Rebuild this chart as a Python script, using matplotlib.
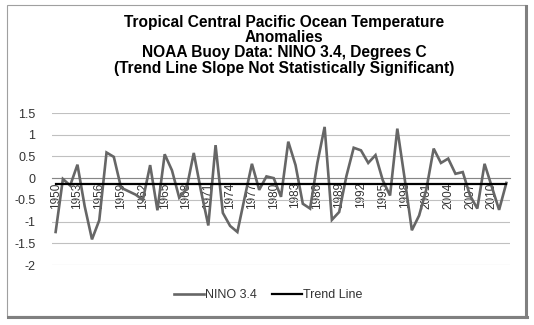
import matplotlib
matplotlib.use("Agg")
import matplotlib.pyplot as plt
from matplotlib.patches import Rectangle

plt.rcParams["font.family"] = ["Liberation Sans", "DejaVu Sans"]

# Annual NINO 3.4 anomalies (deg C)
years = list(range(1950, 2013))
nino34 = [
    -1.24, -0.02, -0.17, 0.31, -0.65, -1.41, -0.97, 0.59, 0.49, -0.22,
    -0.30, -0.38, -0.50, 0.30, -0.74, 0.55, 0.18, -0.45, -0.25, 0.58,
    -0.30, -1.09, 0.76, -0.80, -1.10, -1.24, -0.45, 0.33, -0.27, 0.04,
    0.00, -0.43, 0.84, 0.30, -0.59, -0.70, 0.35, 1.18, -0.96, -0.78,
    0.05, 0.70, 0.64, 0.35, 0.53, -0.05, -0.40, 1.14, 0.00, -1.20,
    -0.86, -0.25, 0.68, 0.35, 0.45, 0.10, 0.14, -0.40, -0.70, 0.33,
    -0.20, -0.73, -0.11,
]
trend_ends = [-0.14, -0.14]
yticks = [1.5, 1, 0.5, 0, -0.5, -1, -1.5, -2]

W, H = 534, 325
fig = plt.figure(figsize=(W / 100, H / 100), dpi=100)
ax = fig.add_axes([52 / W, 1 - 265 / H, 458 / W, 152 / H])

idx = list(range(len(years)))
ax.plot(idx, nino34, color="#666666", lw=1.9, label="NINO 3.4", zorder=3,
        solid_joinstyle="miter")
ax.plot([idx[0], idx[-1]], trend_ends, color="black", lw=1.6,
        label="Trend Line", zorder=4)

ax.set_xlim(-0.5, len(years) - 0.5)
ax.set_ylim(-2, 1.5)
ax.grid(axis="y", color="#c0c0c0", lw=0.8)
ax.set_axisbelow(True)

for s in ("top", "right", "left"):
    ax.spines[s].set_visible(False)
# horizontal axis crosses at zero, as in Excel
ax.spines["bottom"].set_position(("data", 0))
ax.spines["bottom"].set_color("#868686")
ax.spines["bottom"].set_linewidth(0.8)

ax.set_yticks(yticks)
ax.set_yticklabels([f"{v:g}" for v in yticks])
ax.set_xticks(idx[::3])
ax.set_xticklabels([str(y) for y in years[::3]], rotation=90)
ax.tick_params(axis="x", length=0, pad=3, labelsize=8.5, labelcolor="#333333")
ax.tick_params(axis="y", length=0, pad=12, labelsize=9, labelcolor="#333333")

fig.text(284 / W, 1 - 15 / H,
         "Tropical Central Pacific Ocean Temperature\nAnomalies\n"
         "NOAA Buoy Data: NINO 3.4, Degrees C\n"
         "(Trend Line Slope Not Statistically Significant)",
         ha="center", va="top", fontsize=11.2, fontweight="bold",
         linespacing=1.02, multialignment="center")

fig.legend(loc="center", bbox_to_anchor=(268 / W, 1 - 295 / H), ncol=2,
           frameon=False, fontsize=9, handlelength=2.4, columnspacing=1.2,
           handletextpad=0.1, labelcolor="#333333")

# chart frame with a slight shadow on right/bottom
fig.patches.append(Rectangle((7 / W, 1 - 316 / H), 519 / W, 311 / H,
                             transform=fig.transFigure, fill=False,
                             edgecolor="#a0a0a0", lw=0.8))
fig.lines.append(plt.Line2D([526 / W, 526 / W], [1 - 317 / H, 1 - 6 / H],
                            transform=fig.transFigure, color="#808080", lw=2.2))
fig.lines.append(plt.Line2D([8 / W, 527 / W], [1 - 317 / H, 1 - 317 / H],
                            transform=fig.transFigure, color="#808080", lw=2.2))

fig.savefig("out.png", dpi=100)
